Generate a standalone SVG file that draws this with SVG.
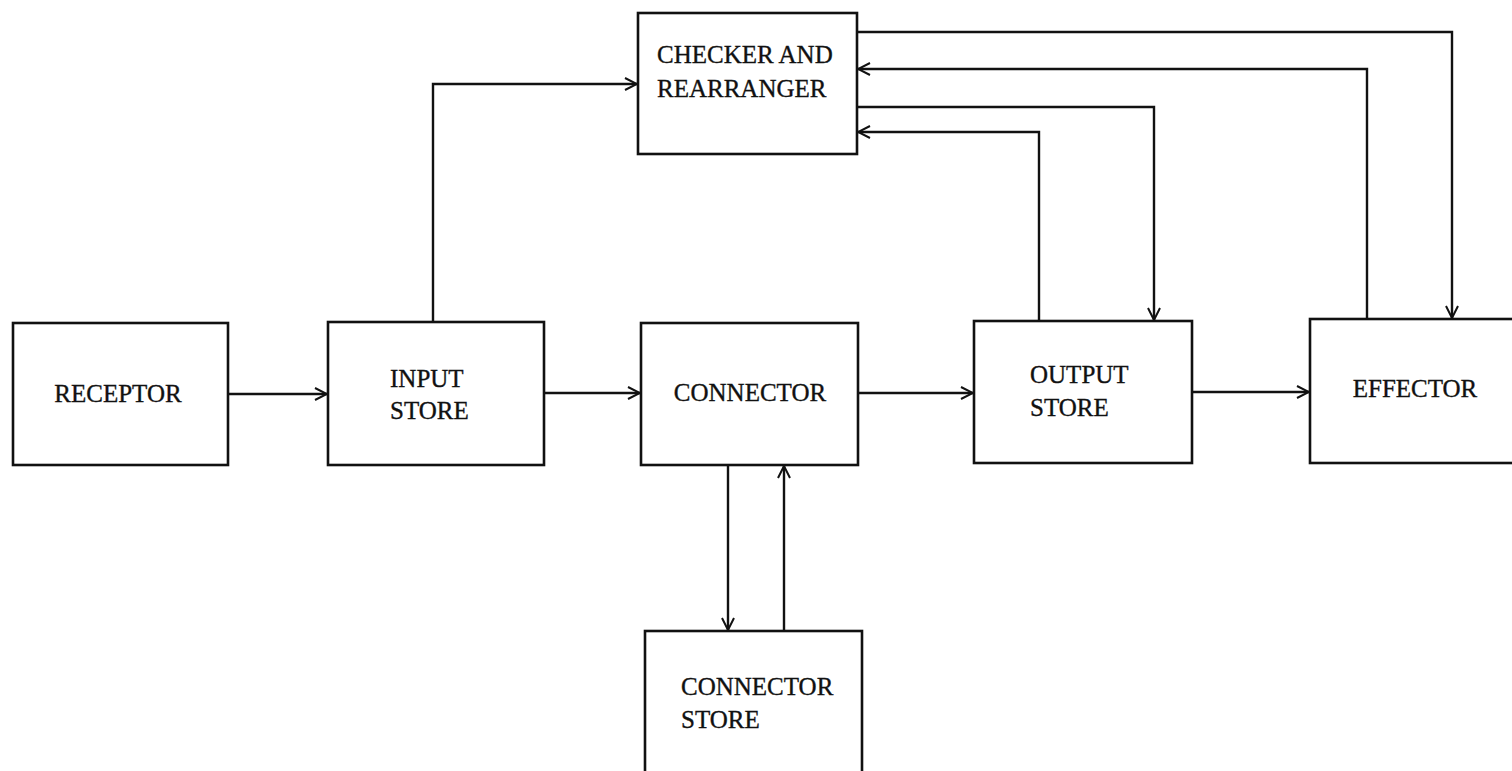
<svg xmlns="http://www.w3.org/2000/svg" width="1512" height="771" viewBox="0 0 1512 771">
<style>
.box{fill:none;stroke:#111;stroke-width:2.6}
.lbl{font-family:"Liberation Serif","Times New Roman",serif;font-size:25px;fill:#111;stroke:#111;stroke-width:0.35}
.c{text-anchor:middle}
.con{fill:none;stroke:#111;stroke-width:2.4}
</style>
<defs>
<marker id="arr" viewBox="0 0 14 14" refX="13" refY="7" markerWidth="14" markerHeight="14" markerUnits="userSpaceOnUse" orient="auto">
<path d="M1,1 L13,7 L1,13" fill="none" stroke="#111" stroke-width="2"/>
</marker>
</defs>
<rect width="1512" height="771" fill="#fff"/>
<g id="receptor">
<rect class="box" x="13" y="323" width="215" height="142"/>
<text class="lbl c" x="118" y="402">RECEPTOR</text>
</g>
<g id="input-store">
<rect class="box" x="328" y="322" width="216" height="143"/>
<text class="lbl" x="390" y="387">INPUT</text>
<text class="lbl" x="390" y="419">STORE</text>
</g>
<g id="connector">
<rect class="box" x="641" y="323" width="217" height="142"/>
<text class="lbl c" x="750" y="401">CONNECTOR</text>
</g>
<g id="output-store">
<rect class="box" x="974" y="321" width="218" height="142"/>
<text class="lbl" x="1030" y="383">OUTPUT</text>
<text class="lbl" x="1030" y="416">STORE</text>
</g>
<g id="effector">
<rect class="box" x="1310" y="319" width="215" height="144"/>
<text class="lbl c" x="1415" y="397">EFFECTOR</text>
</g>
<g id="checker">
<rect class="box" x="638" y="13" width="219" height="141"/>
<text class="lbl" x="657" y="63">CHECKER AND</text>
<text class="lbl" x="657" y="97">REARRANGER</text>
</g>
<g id="connector-store">
<rect class="box" x="645" y="631" width="217" height="145"/>
<text class="lbl" x="681" y="695">CONNECTOR</text>
<text class="lbl" x="681" y="728">STORE</text>
</g>
<g id="connectors">
<path class="con" d="M228,394 H327" marker-end="url(#arr)"/>
<path class="con" d="M544,393 H640" marker-end="url(#arr)"/>
<path class="con" d="M858,393 H973" marker-end="url(#arr)"/>
<path class="con" d="M1192,392 H1309" marker-end="url(#arr)"/>
<path class="con" d="M433,322 V84 H637" marker-end="url(#arr)"/>
<path class="con" d="M857,32 H1452 V318" marker-end="url(#arr)"/>
<path class="con" d="M1367,319 V69 H858" marker-end="url(#arr)"/>
<path class="con" d="M857,107 H1154 V320" marker-end="url(#arr)"/>
<path class="con" d="M1039,321 V132 H858" marker-end="url(#arr)"/>
<path class="con" d="M728,465 V630" marker-end="url(#arr)"/>
<path class="con" d="M784,631 V466" marker-end="url(#arr)"/>
</g>
</svg>
